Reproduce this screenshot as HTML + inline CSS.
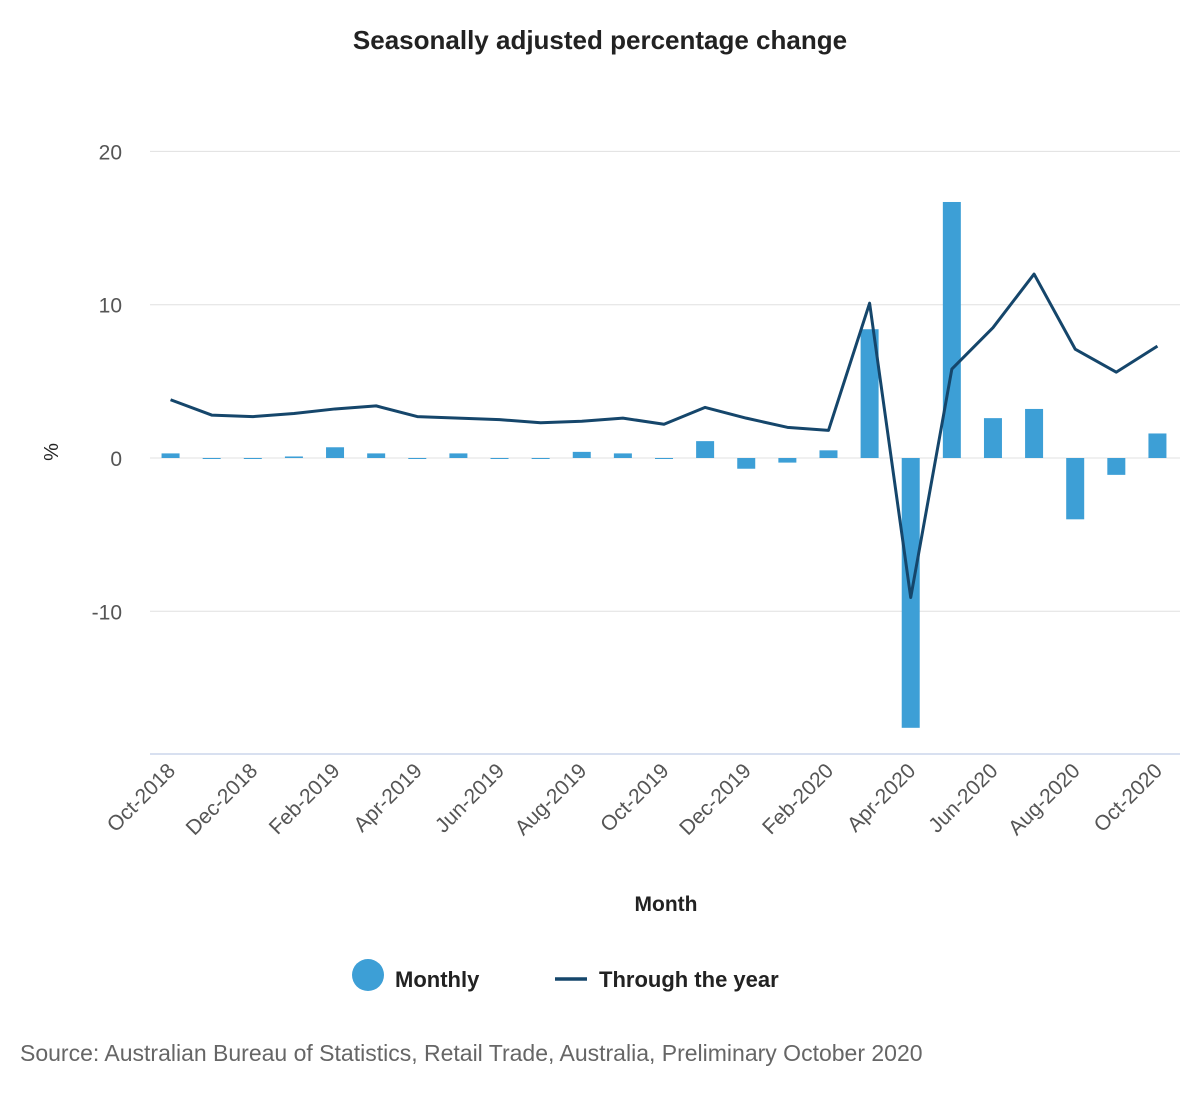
<!DOCTYPE html>
<html><head><meta charset="utf-8"><style>
body{margin:0;background:#fff;font-family:"Liberation Sans",sans-serif;}
</style></head><body>
<svg id="chart" width="1200" height="1100" xmlns="http://www.w3.org/2000/svg">
<text x="600" y="49" text-anchor="middle" font-size="26" font-weight="bold" fill="#222">Seasonally adjusted percentage change</text>
<g id="grid"></g>
<g id="bars"></g>
<g id="line"></g>
<g id="xlabels"></g>
<text x="58" y="452" text-anchor="middle" font-size="20" fill="#222" transform="rotate(-90 58 452)">%</text>
<text x="666" y="911" text-anchor="middle" font-size="21" font-weight="bold" fill="#222">Month</text>
<g><circle cx="368" cy="975" r="16" fill="#3d9fd6"/><text x="395" y="987" font-size="22" font-weight="bold" fill="#222">Monthly</text></g>
<g><line x1="555" y1="979" x2="587" y2="979" stroke="#15466b" stroke-width="3.5"/><text x="599" y="987" font-size="22" font-weight="bold" fill="#222">Through the year</text></g>
<text x="20" y="1061" font-size="23" fill="#666">Source: Australian Bureau of Statistics, Retail Trade, Australia, Preliminary October 2020</text>
</svg>
<script>
const categories=["Oct-2018","Nov-2018","Dec-2018","Jan-2019","Feb-2019","Mar-2019","Apr-2019","May-2019","Jun-2019","Jul-2019","Aug-2019","Sep-2019","Oct-2019","Nov-2019","Dec-2019","Jan-2020","Feb-2020","Mar-2020","Apr-2020","May-2020","Jun-2020","Jul-2020","Aug-2020","Sep-2020","Oct-2020"];
const monthly=[0.3,0,0,0.1,0.7,0.3,0,0.3,0,0,0.4,0.3,0,1.1,-0.7,-0.3,0.5,8.4,-17.6,16.7,2.6,3.2,-4.0,-1.1,1.6];
const throughYear=[3.8,2.8,2.7,2.9,3.2,3.4,2.7,2.6,2.5,2.3,2.4,2.6,2.2,3.3,2.6,2.0,1.8,10.1,-9.1,5.8,8.5,12.0,7.1,5.6,7.3];
const yTicks=[20,10,0,-10];
const ns="http://www.w3.org/2000/svg";
const x0=150,x1=1178,band=(x1-x0)/categories.length;
function xs(i){return x0+band*(i+0.5);}
function ys(v){return 458-v*15.33;}
function mk(t,a,p){const e=document.createElementNS(ns,t);for(const k in a)e.setAttribute(k,a[k]);p.appendChild(e);return e;}
const grid=document.getElementById('grid');
yTicks.forEach(v=>{
 const l=mk('line',{x1:x0,x2:x1+2,y1:ys(v),y2:ys(v),stroke:'#e0e0e0','stroke-width':1},grid);
 
 
 const t=mk('text',{x:122,y:ys(v)+8,'text-anchor':'end','font-size':21,fill:'#555'},grid);
 t.textContent=v;
 
 
});
const ax=mk('line',{x1:x0,x2:x1+2,y1:754,y2:754,stroke:'#ccd6eb','stroke-width':1.5},grid);


const bars=document.getElementById('bars');
monthly.forEach((v,i)=>{
 const y=Math.min(ys(v),ys(0)),h=Math.max(Math.abs(ys(v)-ys(0)),1);
 const r=mk('rect',{x:xs(i)-9,y:y,width:18,height:h,fill:'#3d9fd6'},bars);
 
 
});
const pts=throughYear.map((v,i)=>xs(i)+','+ys(v)).join(' ');
const pl=mk('polyline',{points:pts,fill:'none',stroke:'#15466b','stroke-width':3,'stroke-linejoin':'round'},document.getElementById('line'));


const xl=document.getElementById('xlabels');
categories.forEach((c,i)=>{
 if(i%2)return;
 const x=xs(i)+6,y=772;
 const t=mk('text',{x:x,y:y,'text-anchor':'end','font-size':21,fill:'#555',transform:`rotate(-45 ${x} ${y})`},xl);
 t.textContent=c;
 
 
});
</script>
</body></html>
